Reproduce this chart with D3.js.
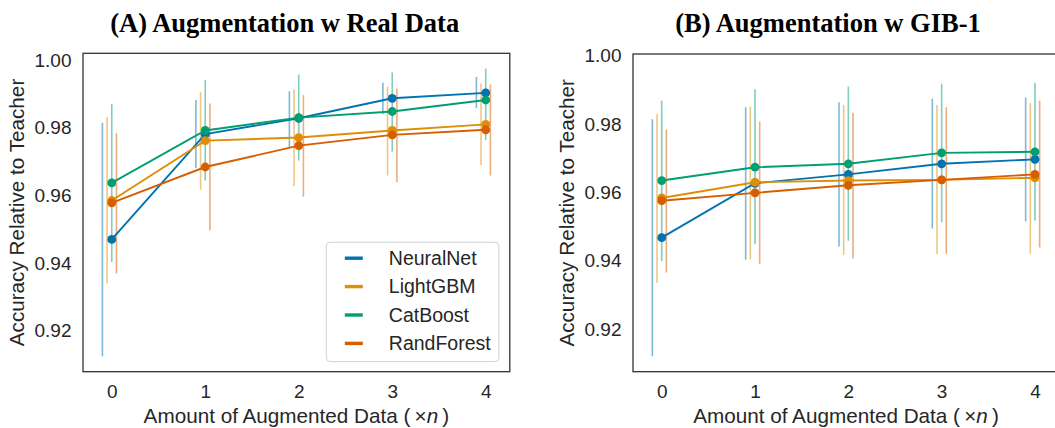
<!DOCTYPE html>
<html>
<head>
<meta charset="utf-8">
<script src="https://cdn.jsdelivr.net/npm/d3@7"></script>
<style>
  html, body { margin: 0; padding: 0; background: #fff; }
  svg text { font-family: "Liberation Sans", Arial, sans-serif; fill: #262626; }
</style>
</head>
<body>
<svg id="chart" width="1055" height="428"></svg>
<script>
// ---------------- DATA ----------------
const amounts = [0, 1, 2, 3, 4];
const seriesNames = ["NeuralNet", "LightGBM", "CatBoost", "RandForest"];
const xTickLabels = ["0", "1", "2", "3", "4"];
const yTicks = [0.92, 0.94, 0.96, 0.98, 1.00];
const titleA = "(A) Augmentation w Real Data";
const titleB = "(B) Augmentation w GIB-1";
const yLabel = "Accuracy Relative to Teacher";

// Panel A: Augmentation w Real Data (order: NeuralNet, LightGBM, CatBoost, RandForest)
const realMean = [
  [0.9470, 0.9781, 0.9828, 0.9887, 0.9903],
  [0.9585, 0.9762, 0.9771, 0.9792, 0.9810],
  [0.9637, 0.9792, 0.9830, 0.9848, 0.9882],
  [0.9578, 0.9684, 0.9747, 0.9779, 0.9794]
];
const realLow = [
  [0.9125, 0.9681, 0.9743, 0.9840, 0.9858],
  [0.9340, 0.9617, 0.9627, 0.9659, 0.9689],
  [0.9403, 0.9644, 0.9703, 0.9730, 0.9764],
  [0.9369, 0.9497, 0.9596, 0.9639, 0.9659]
];
const realHigh = [
  [0.9815, 0.9882, 0.9908, 0.9934, 0.9950],
  [0.9831, 0.9905, 0.9913, 0.9921, 0.9931],
  [0.9870, 0.9941, 0.9957, 0.9963, 0.9975],
  [0.9784, 0.9872, 0.9897, 0.9916, 0.9928]
];

// Panel B: Augmentation w GIB-1
const gibMean = [
  [0.9468, 0.9627, 0.9653, 0.9684, 0.9697],
  [0.9584, 0.9630, 0.9635, 0.9637, 0.9643],
  [0.9635, 0.9674, 0.9684, 0.9716, 0.9719],
  [0.9576, 0.9599, 0.9621, 0.9637, 0.9653]
];
const gibLow = [
  [0.9121, 0.9403, 0.9442, 0.9495, 0.9515],
  [0.9336, 0.9405, 0.9417, 0.9420, 0.9421],
  [0.9400, 0.9449, 0.9459, 0.9513, 0.9518],
  [0.9366, 0.9392, 0.9407, 0.9421, 0.9439]
];
const gibHigh = [
  [0.9814, 0.9849, 0.9864, 0.9874, 0.9878],
  [0.9829, 0.9851, 0.9856, 0.9856, 0.9861],
  [0.9869, 0.9902, 0.9910, 0.9918, 0.9920],
  [0.9784, 0.9807, 0.9833, 0.9849, 0.9868]
];

// ---------------- STYLE ----------------
const palette = ["#0173b2", "#de8f05", "#029e73", "#d55e00"];
const errOffsets = [-0.1, -0.05, 0, 0.05];
const svg = d3.select("#chart");

function drawPanel(cfg) {
  const { left, right, top, bottom, yDomain, title, titleX, mean, low, high, legend } = cfg;
  const x = d3.scaleLinear().domain([-0.3075, 4.2575]).range([left, right]);
  const y = d3.scaleLinear().domain(yDomain).range([bottom, top]);
  const g = svg.append("g");

  // title
  g.append("text")
    .attr("x", titleX)
    .attr("y", 32)
    .attr("text-anchor", "middle")
    .style("font-family", "'Liberation Serif', 'Times New Roman', serif")
    .style("font-weight", "bold")
    .style("font-size", "26.5px")
    .style("fill", "#000")
    .text(title);

  // axes ticks (no tick marks, labels only)
  const xAxis = d3.axisBottom(x).tickValues(amounts).tickSize(0).tickPadding(13)
    .tickFormat((d, i) => xTickLabels[i]);
  const gx = g.append("g").attr("transform", `translate(0,${bottom})`).call(xAxis);
  gx.select(".domain").remove();
  gx.selectAll("text").style("font-size", "19px").style("font-family", "'Liberation Sans', Arial, sans-serif").attr("fill", "#262626");

  const yAxis = d3.axisLeft(y).tickValues(yTicks).tickSize(0).tickPadding(11.5)
    .tickFormat(d3.format(".2f"));
  const gy = g.append("g").attr("transform", `translate(${left},0)`).call(yAxis);
  gy.select(".domain").remove();
  gy.selectAll("text").style("font-size", "19px").style("font-family", "'Liberation Sans', Arial, sans-serif").attr("fill", "#262626");

  // clip
  const clipId = "clip" + Math.round(left);
  svg.append("clipPath").attr("id", clipId)
    .append("rect").attr("x", left).attr("y", top).attr("width", right - left).attr("height", bottom - top);
  const plot = g.append("g").attr("clip-path", `url(#${clipId})`);

  // error bars
  seriesNames.forEach((name, s) => {
    plot.append("g").selectAll("line")
      .data(amounts.map((a, i) => ({ a, lo: low[s][i], hi: high[s][i] })))
      .join("line")
      .attr("x1", d => x(d.a + errOffsets[s]))
      .attr("x2", d => x(d.a + errOffsets[s]))
      .attr("y1", d => y(d.lo))
      .attr("y2", d => y(d.hi))
      .attr("stroke", palette[s])
      .attr("stroke-opacity", 0.5)
      .attr("stroke-width", 1.6);
  });

  // lines + markers
  const line = d3.line().x((d, i) => x(amounts[i])).y(d => y(d));
  seriesNames.forEach((name, s) => {
    plot.append("path")
      .datum(mean[s])
      .attr("d", line)
      .attr("fill", "none")
      .attr("stroke", palette[s])
      .attr("stroke-width", 1.9);
    plot.append("g").selectAll("circle")
      .data(mean[s])
      .join("circle")
      .attr("cx", (d, i) => x(amounts[i]))
      .attr("cy", d => y(d))
      .attr("r", 4.4)
      .attr("fill", palette[s]);
  });

  // frame
  g.append("rect")
    .attr("x", left).attr("y", top)
    .attr("width", right - left).attr("height", bottom - top)
    .attr("fill", "none").attr("stroke", "#333").attr("stroke-width", 1.3);

  // axis labels
  g.append("text")
    .attr("x", (left + right) / 2)
    .attr("y", bottom + 51.6)
    .attr("text-anchor", "middle")
    .style("font-size", "20.7px")
    .html("Amount of Augmented Data (\u2009\u00d7<tspan style='font-style:italic'>n</tspan>\u2009)");

  g.append("text")
    .attr("transform", `translate(${left - 66.3},${(top + bottom) / 2}) rotate(-90)`)
    .attr("text-anchor", "middle")
    .attr("dy", "0.35em")
    .style("font-size", "20.7px")
    .text(yLabel);

  if (legend) {
    const lx = right - 183.5, ly = bottom - 129.5, lw = 172.6, lh = 119.4;
    const lg = g.append("g");
    lg.append("rect").attr("x", lx).attr("y", ly).attr("width", lw).attr("height", lh)
      .attr("rx", 4).attr("fill", "#fff").attr("fill-opacity", 0.85)
      .attr("stroke", "#d0d0d0").attr("stroke-width", 1);
    seriesNames.forEach((name, s) => {
      const cy = ly + 16 + s * 28.4;
      lg.append("line").attr("x1", lx + 18.5).attr("x2", lx + 36.5)
        .attr("y1", cy).attr("y2", cy)
        .attr("stroke", palette[s]).attr("stroke-width", 3.4);
      lg.append("text").attr("x", lx + 62.5).attr("y", cy).attr("dy", "0.35em")
        .style("font-size", "19.5px").text(name);
    });
  }
}

drawPanel({
  left: 83, right: 509.8, top: 53.3, bottom: 371.7,
  yDomain: [0.9079, 1.0020], title: titleA, titleX: 284.7,
  mean: realMean, low: realLow, high: realHigh, legend: true
});
drawPanel({
  left: 633, right: 1059, top: 54, bottom: 371.7,
  yDomain: [0.9076, 1.0005], title: titleB, titleX: 828,
  mean: gibMean, low: gibLow, high: gibHigh, legend: false
});
</script>
</body>
</html>
